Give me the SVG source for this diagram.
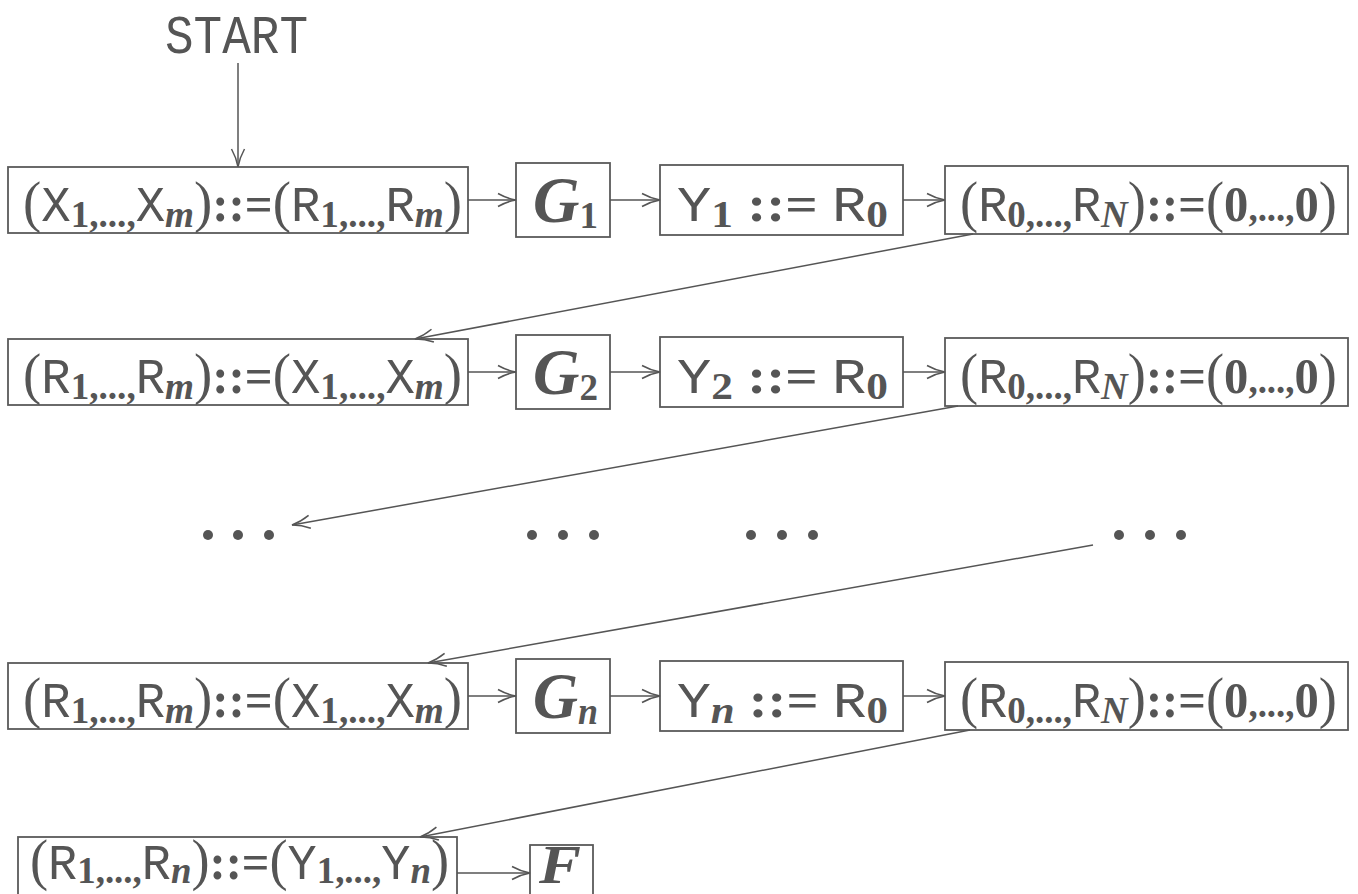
<svg xmlns="http://www.w3.org/2000/svg" width="1358" height="894" viewBox="0 0 1358 894">
<defs>
<style>
.bx{fill:none;stroke:#5a5a5a;stroke-width:1.8}
.c{fill:none;stroke:#555;stroke-width:1.5}
text{fill:#555}
.tt{font-family:"Liberation Mono",monospace}
.p{font-family:"Liberation Serif",serif;font-size:56px}
.m{font-family:"Liberation Mono",monospace;font-size:50px}
.sb{font-family:"Liberation Serif",serif;font-weight:bold;font-size:38px}
.si{font-family:"Liberation Serif",serif;font-style:italic;font-weight:bold;font-size:38px}
.eq{font-family:"Liberation Serif",serif;font-weight:bold;font-size:50px}
.big{font-family:"Liberation Serif",serif;font-weight:bold;font-style:italic;font-size:66px}
.dot{fill:#555}
</style>
<marker id="ah" markerUnits="userSpaceOnUse" orient="auto" refX="0" refY="0" markerWidth="20" markerHeight="20" overflow="visible">
<path d="M-18,-6.5 Q-9,-1.5 0,0 Q-9,1.5 -18,6.5" fill="none" stroke="#555" stroke-width="1.5"/>
</marker>
</defs>

<g id="start">
<text class="tt" x="165" y="53" font-size="54" textLength="143" lengthAdjust="spacingAndGlyphs">START</text>
</g>

<!-- Row 1 -->
<g id="r1a"><rect class="bx" x="8" y="167" width="460" height="66"/>
<text x="23" y="221" textLength="439" lengthAdjust="spacingAndGlyphs"><tspan class="p">(</tspan><tspan class="m">X</tspan><tspan class="sb" dy="6">1</tspan><tspan class="sb">,...,</tspan><tspan class="m" dy="-6">X</tspan><tspan class="si" dy="6">m</tspan><tspan class="p" dy="-6">)</tspan><tspan class="eq">::=</tspan><tspan class="p">(</tspan><tspan class="m">R</tspan><tspan class="sb" dy="6">1</tspan><tspan class="sb">,...,</tspan><tspan class="m" dy="-6">R</tspan><tspan class="si" dy="6">m</tspan><tspan class="p" dy="-6">)</tspan></text></g>
<g id="r1g"><rect class="bx" x="516" y="163" width="94" height="74"/>
<text x="533" y="222" textLength="65" lengthAdjust="spacingAndGlyphs"><tspan class="big">G</tspan><tspan class="sb" dy="6">1</tspan></text></g>
<g id="r1y"><rect class="bx" x="660" y="165" width="243" height="70"/>
<text x="677" y="221" textLength="211" lengthAdjust="spacingAndGlyphs"><tspan class="m">Y</tspan><tspan class="sb" dy="6">1</tspan><tspan class="eq" dy="-6"> ::= </tspan><tspan class="m">R</tspan><tspan class="sb" dy="6">0</tspan></text></g>
<g id="r1z"><rect class="bx" x="945" y="166" width="403" height="68"/>
<text x="960" y="221" textLength="377" lengthAdjust="spacingAndGlyphs"><tspan class="p">(</tspan><tspan class="m">R</tspan><tspan class="sb" dy="6">0</tspan><tspan class="sb">,...,</tspan><tspan class="m" dy="-6">R</tspan><tspan class="si" dy="6">N</tspan><tspan class="p" dy="-6">)</tspan><tspan class="eq">::=</tspan><tspan class="p">(</tspan><tspan class="eq">0</tspan><tspan class="sb">,...,</tspan><tspan class="eq">0</tspan><tspan class="p">)</tspan></text></g>

<!-- Row 2 -->
<g id="r2a"><rect class="bx" x="8" y="339" width="460" height="66"/>
<text x="23" y="393" textLength="439" lengthAdjust="spacingAndGlyphs"><tspan class="p">(</tspan><tspan class="m">R</tspan><tspan class="sb" dy="6">1</tspan><tspan class="sb">,...,</tspan><tspan class="m" dy="-6">R</tspan><tspan class="si" dy="6">m</tspan><tspan class="p" dy="-6">)</tspan><tspan class="eq">::=</tspan><tspan class="p">(</tspan><tspan class="m">X</tspan><tspan class="sb" dy="6">1</tspan><tspan class="sb">,...,</tspan><tspan class="m" dy="-6">X</tspan><tspan class="si" dy="6">m</tspan><tspan class="p" dy="-6">)</tspan></text></g>
<g id="r2g"><rect class="bx" x="516" y="335" width="94" height="74"/>
<text x="533" y="394" textLength="65" lengthAdjust="spacingAndGlyphs"><tspan class="big">G</tspan><tspan class="sb" dy="6">2</tspan></text></g>
<g id="r2y"><rect class="bx" x="660" y="337" width="243" height="70"/>
<text x="677" y="393" textLength="211" lengthAdjust="spacingAndGlyphs"><tspan class="m">Y</tspan><tspan class="sb" dy="6">2</tspan><tspan class="eq" dy="-6"> ::= </tspan><tspan class="m">R</tspan><tspan class="sb" dy="6">0</tspan></text></g>
<g id="r2z"><rect class="bx" x="945" y="338" width="403" height="68"/>
<text x="960" y="393" textLength="377" lengthAdjust="spacingAndGlyphs"><tspan class="p">(</tspan><tspan class="m">R</tspan><tspan class="sb" dy="6">0</tspan><tspan class="sb">,...,</tspan><tspan class="m" dy="-6">R</tspan><tspan class="si" dy="6">N</tspan><tspan class="p" dy="-6">)</tspan><tspan class="eq">::=</tspan><tspan class="p">(</tspan><tspan class="eq">0</tspan><tspan class="sb">,...,</tspan><tspan class="eq">0</tspan><tspan class="p">)</tspan></text></g>

<!-- Dots row -->
<g id="dots">
<circle class="dot" cx="208" cy="535" r="5"/><circle class="dot" cx="238" cy="535" r="5"/><circle class="dot" cx="269" cy="535" r="5"/>
<circle class="dot" cx="532" cy="535" r="5"/><circle class="dot" cx="563" cy="535" r="5"/><circle class="dot" cx="594" cy="535" r="5"/>
<circle class="dot" cx="751" cy="535" r="5"/><circle class="dot" cx="782" cy="535" r="5"/><circle class="dot" cx="813" cy="535" r="5"/>
<circle class="dot" cx="1119" cy="535" r="5"/><circle class="dot" cx="1150" cy="535" r="5"/><circle class="dot" cx="1181" cy="535" r="5"/>
</g>

<!-- Row 4 -->
<g id="r4a"><rect class="bx" x="8" y="663" width="460" height="66"/>
<text x="23" y="717" textLength="439" lengthAdjust="spacingAndGlyphs"><tspan class="p">(</tspan><tspan class="m">R</tspan><tspan class="sb" dy="6">1</tspan><tspan class="sb">,...,</tspan><tspan class="m" dy="-6">R</tspan><tspan class="si" dy="6">m</tspan><tspan class="p" dy="-6">)</tspan><tspan class="eq">::=</tspan><tspan class="p">(</tspan><tspan class="m">X</tspan><tspan class="sb" dy="6">1</tspan><tspan class="sb">,...,</tspan><tspan class="m" dy="-6">X</tspan><tspan class="si" dy="6">m</tspan><tspan class="p" dy="-6">)</tspan></text></g>
<g id="r4g"><rect class="bx" x="516" y="659" width="94" height="74"/>
<text x="533" y="718" textLength="65" lengthAdjust="spacingAndGlyphs"><tspan class="big">G</tspan><tspan class="si" dy="6">n</tspan></text></g>
<g id="r4y"><rect class="bx" x="660" y="661" width="243" height="70"/>
<text x="677" y="717" textLength="211" lengthAdjust="spacingAndGlyphs"><tspan class="m">Y</tspan><tspan class="si" dy="6">n</tspan><tspan class="eq" dy="-6"> ::= </tspan><tspan class="m">R</tspan><tspan class="sb" dy="6">0</tspan></text></g>
<g id="r4z"><rect class="bx" x="945" y="662" width="403" height="68"/>
<text x="960" y="717" textLength="377" lengthAdjust="spacingAndGlyphs"><tspan class="p">(</tspan><tspan class="m">R</tspan><tspan class="sb" dy="6">0</tspan><tspan class="sb">,...,</tspan><tspan class="m" dy="-6">R</tspan><tspan class="si" dy="6">N</tspan><tspan class="p" dy="-6">)</tspan><tspan class="eq">::=</tspan><tspan class="p">(</tspan><tspan class="eq">0</tspan><tspan class="sb">,...,</tspan><tspan class="eq">0</tspan><tspan class="p">)</tspan></text></g>

<!-- Row 5 -->
<g id="r5a"><rect class="bx" x="18" y="837" width="439" height="66"/>
<text x="30" y="879" textLength="419" lengthAdjust="spacingAndGlyphs"><tspan class="p">(</tspan><tspan class="m">R</tspan><tspan class="sb" dy="4">1</tspan><tspan class="sb">,...,</tspan><tspan class="m" dy="-4">R</tspan><tspan class="si" dy="4">n</tspan><tspan class="p" dy="-4">)</tspan><tspan class="eq">::=</tspan><tspan class="p">(</tspan><tspan class="m">Y</tspan><tspan class="sb" dy="4">1</tspan><tspan class="sb">,...,</tspan><tspan class="m" dy="-4">Y</tspan><tspan class="si" dy="4">n</tspan><tspan class="p" dy="-4">)</tspan></text></g>
<g id="r5f"><rect class="bx" x="530" y="845" width="63" height="64"/>
<text x="539" y="883" textLength="42" lengthAdjust="spacingAndGlyphs" class="big" style="font-size:54px">F</text></g>

<g id="connectors">
<line class="c" x1="238" y1="63" x2="238" y2="167" marker-end="url(#ah)"/>
<line class="c" x1="468" y1="200" x2="516" y2="200" marker-end="url(#ah)"/>
<line class="c" x1="610" y1="200" x2="660" y2="200" marker-end="url(#ah)"/>
<line class="c" x1="903" y1="200" x2="945" y2="200" marker-end="url(#ah)"/>
<line class="c" x1="973" y1="234" x2="415" y2="339" marker-end="url(#ah)"/>
<line class="c" x1="468" y1="372" x2="516" y2="372" marker-end="url(#ah)"/>
<line class="c" x1="610" y1="372" x2="660" y2="372" marker-end="url(#ah)"/>
<line class="c" x1="903" y1="372" x2="945" y2="372" marker-end="url(#ah)"/>
<line class="c" x1="958" y1="406" x2="292" y2="525" marker-end="url(#ah)"/>
<line class="c" x1="1093" y1="545" x2="428" y2="663" marker-end="url(#ah)"/>
<line class="c" x1="468" y1="696" x2="516" y2="696" marker-end="url(#ah)"/>
<line class="c" x1="610" y1="696" x2="660" y2="696" marker-end="url(#ah)"/>
<line class="c" x1="903" y1="696" x2="945" y2="696" marker-end="url(#ah)"/>
<line class="c" x1="970" y1="730" x2="420" y2="837" marker-end="url(#ah)"/>
<line class="c" x1="457" y1="873" x2="530" y2="873" marker-end="url(#ah)"/>
</g>
</svg>
